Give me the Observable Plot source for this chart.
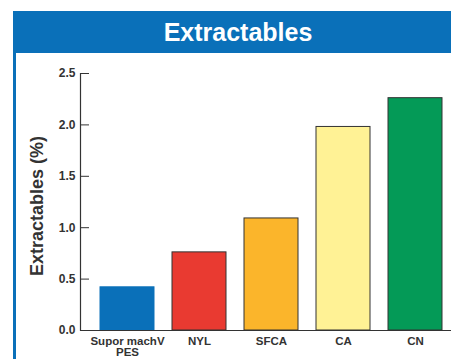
<!DOCTYPE html>
<html><head><meta charset="utf-8">
<script src="https://cdn.jsdelivr.net/npm/d3@7"></script>
<script src="https://cdn.jsdelivr.net/npm/@observablehq/plot@0.6"></script>
<style>
body{margin:0;background:#fff;font-family:"Liberation Sans",Arial,sans-serif;}
#wrap{position:relative;width:451px;height:359px;overflow:hidden;}
#header{position:absolute;left:13px;top:11px;width:438px;height:42px;background:#0a70b9;color:#fff;font-weight:bold;font-size:25px;line-height:42px;text-align:center;padding-left:12px;box-sizing:border-box;}
#lborder{position:absolute;left:13px;top:11px;width:2.5px;height:348px;background:#0a70b9;}
#chart{position:absolute;left:0;top:53px;}
</style></head>
<body><div id="wrap"><div id="lborder"></div><div id="header">Extractables</div><div id="chart"></div></div>
<script>
const categories = ["Supor machV\nPES", "NYL", "SFCA", "CA", "CN"];
const values = [0.42, 0.76, 1.09, 1.98, 2.26];
const colors = ["#0a70b9", "#e93a31", "#fbb52b", "#fff295", "#049a57"];
const strokes = ["#0a70b9", "#333", "#333", "#333", "#333"];
const yTicks = [0, 0.5, 1.0, 1.5, 2.0, 2.5];
const yLabel = "Extractables (%)";
const data = categories.map((c, i) => ({cat: c, value: values[i], color: colors[i], stroke: strokes[i]}));

const chart = Plot.plot({
  width: 451, height: 306,
  marginLeft: 80, marginRight: 0, marginTop: 20, marginBottom: 29,
  style: {fontFamily: "'Liberation Sans', Arial, sans-serif", color: "#333", background: "transparent"},
  x: {domain: categories, range: [91, 451], paddingInner: 0.25, paddingOuter: 0.125},
  y: {domain: [0, 2.5]},
  marks: [
    Plot.barY(data, {x: "cat", y: "value", fill: d => d.color, stroke: d => d.stroke, strokeWidth: 1}),
    Plot.ruleY([0], {stroke: "#333", strokeWidth: 1.2}),
    Plot.frame({anchor: "left", stroke: "#333", strokeWidth: 1.2}),
    Plot.axisY({ticks: yTicks, tickSize: 0, tickPadding: 5, tickFormat: d3.format(".1f"), fontSize: 12, fontWeight: "bold", label: null}),
    Plot.axisY({ticks: yTicks, tickSize: -9, tickFormat: () => "", label: null, stroke: "#333"}),
    Plot.text([yLabel], {frameAnchor: "left", textAnchor: "middle", rotate: -90, dx: -43, dy: 4, fontSize: 18, fontWeight: "bold", fill: "#333"}),
    Plot.axisX({tickSize: 0, tickPadding: 6, fontSize: 11.5, fontWeight: "bold", label: null, lineHeight: 1})
  ]
});
document.getElementById("chart").appendChild(chart);
</script></body></html>
